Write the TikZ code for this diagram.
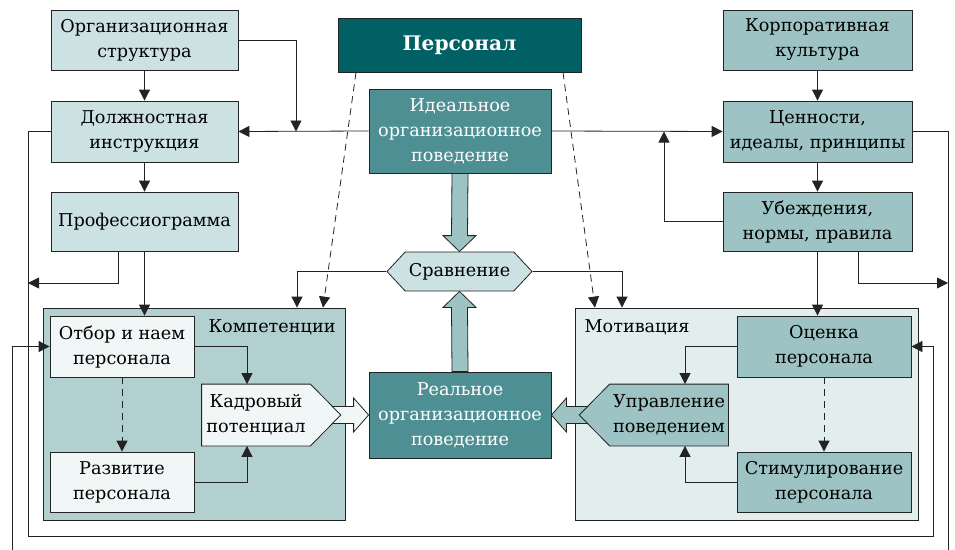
\documentclass[tikz,border=0pt]{standalone}
\usepackage{fontspec}
\setmainfont{DejaVu Serif}[Scale=0.84]
\usepackage{xcolor}
\usepackage{tikz}
\usetikzlibrary{arrows.meta,positioning,shapes.symbols,backgrounds}

\definecolor{lineclr}{RGB}{35,35,35}
\definecolor{lightteal}{RGB}{204,225,226}
\definecolor{midteal}{RGB}{157,195,196}
\definecolor{darkteal}{RGB}{78,143,147}
\definecolor{deepteal}{RGB}{0,96,100}
\definecolor{compfill}{RGB}{179,208,209}
\definecolor{motivfill}{RGB}{226,237,238}
\definecolor{paleteal}{RGB}{241,247,247}

\begin{document}
\begin{tikzpicture}[x=1pt, y=-1pt,
  block/.style={draw=lineclr, line width=0.8pt, align=center, inner sep=2pt,
    minimum width=187pt, minimum height=60pt, font=\fontsize{21}{25}\selectfont},
  lightblock/.style={block, fill=lightteal},
  midblock/.style={block, fill=midteal},
  paleblock/.style={block, fill=paleteal, minimum width=144pt},
  darkblock/.style={block, fill=darkteal, text=white, minimum width=182pt},
  group/.style={draw=lineclr, line width=0.8pt, minimum height=212pt},
  grouplabel/.style={font=\fontsize{21}{25}\selectfont},
  pointtext/.style={block, draw=none, minimum height=61pt},
  outline/.style={draw=lineclr, line width=0.8pt, line join=miter},
  arrow/.style={-{Triangle[length=11pt,width=11pt]}, line width=0.8pt, draw=lineclr},
  dasharrow/.style={arrow, dash pattern=on 7pt off 5pt},
  fat/.style={outline},
]
\useasboundingbox (0,0) rectangle (955,549);

% groups
\begin{scope}[on background layer]
\node[group, fill=compfill, minimum width=302pt] (comp) at (194,414) {};
\node[group, fill=motivfill, minimum width=343pt] (motiv) at (746.5,414) {};
\end{scope}
\node[grouplabel] (complbl) at (272,327) {Компетенции};
\node[grouplabel] (motivlbl) at (637,327) {Мотивация};

% left column
\node[lightblock] (org) at (144.5,40) {Организационная\\структура};
\node[lightblock, minimum height=61pt] (dolzh) at (144.5,131.5) {Должностная\\инструкция};
\node[lightblock, minimum height=59pt] (prof) at (144.5,221.5) {Профессиограмма};

% centre
\node[block, fill=deepteal, text=white, minimum width=243pt, minimum height=54pt,
  font=\fontsize{24}{28}\selectfont\bfseries] (pers) at (459.5,45) {Персонал};
\node[darkblock, minimum height=84pt] (ideal) at (460,131) {Идеальное\\организационное\\поведение};
\node[lightblock, shape=signal, signal to=west and east, signal pointer angle=94,
  minimum width=145pt, minimum height=39pt] (cmp) at (459.5,271.5) {Сравнение};
\node[darkblock, minimum height=86pt] (real) at (460,415) {Реальное\\организационное\\поведение};

% right column
\node[midblock, minimum width=189pt] (korp) at (817.5,40) {Корпоративная\\культура};
\node[midblock, minimum width=189pt, minimum height=61pt] (cenn) at (817.5,131.5) {Ценности,\\идеалы, принципы};
\node[midblock, minimum width=189pt, minimum height=59pt] (ubezh) at (817.5,221.5) {Убеждения,\\нормы, правила};

% inside groups
\node[paleblock, minimum height=61pt] (otbor) at (122,346.5) {Отбор и наем\\персонала};
\node[paleblock] (razv) at (122,482) {Развитие\\персонала};
\node[pointtext, minimum width=108pt] (kadr) at (256,415) {Кадровый\\потенциал};
\node[midblock, minimum width=174pt, minimum height=61pt] (ocenka) at (824,346.5) {Оценка\\персонала};
\node[pointtext, minimum width=118pt] (uprav) at (669,415) {Управление\\поведением};
\node[midblock, minimum width=174pt] (stim) at (824,482) {Стимулирование\\персонала};

\coordinate (kadrtip) at ([xshift=30.5pt]kadr.east);
\coordinate (upravtip) at ([xshift=-30.5pt]uprav.west);
\begin{scope}[on background layer]
\draw[outline, fill=paleteal] (kadr.north west) -- (kadr.north east) -- (kadrtip)
  -- (kadr.south east) -- (kadr.south west) -- cycle;
\draw[outline, fill=midteal] (uprav.north east) -- (uprav.north west) -- (upravtip)
  -- (uprav.south west) -- (uprav.south east) -- cycle;
\end{scope}

% junctions
\coordinate (j1) at (296,131.5);
\coordinate (j2) at (664,131.5);
\coordinate (j3) at (28,283);
\coordinate (j4) at (948,283);

% connectors
\draw[arrow] (org) -- (dolzh);
\draw[arrow] (dolzh) -- (prof);
\draw[arrow] (org.east) -| (j1);
\draw[arrow] (ideal.west) -- (dolzh.east);
\draw[arrow] (ideal.east) -- (cenn.west);
\draw[arrow] (korp) -- (cenn);
\draw[arrow] (cenn) -- (ubezh);
\draw[arrow] (ubezh.west) -| (j2);
\draw[arrow] (dolzh.west) -- ++(-22.5,0) |- (933,536) |- (ocenka.east);
\draw[arrow] (cenn.east) -- ++(36,0) |- (12,575) |- (otbor.west);
\draw[arrow] ([xshift=-26.5pt]prof.south) |- (j3);
\draw[arrow] (prof.south) -- (prof.south |- otbor.north);
\draw[arrow] (cmp.west) -| ([xshift=103pt]comp.north);
\draw[dasharrow] ([xshift=-103.5pt]pers.south) -- ([xshift=129pt]comp.north);
\draw[dasharrow] ([xshift=103.5pt]pers.south) -- ([xshift=-151.5pt]motiv.north);
\draw[arrow] (cmp.east) -| ([xshift=-124.5pt]motiv.north);
\draw[arrow] (ubezh.south) -- (ubezh.south |- ocenka.north);
\draw[arrow] ([xshift=40.5pt]ubezh.south) |- (j4);
\draw[arrow] (otbor.east) -| ([xshift=-9pt]kadr.north);
\draw[dasharrow] (otbor) -- (razv);
\draw[arrow] (razv.east) -| ([xshift=-9pt]kadr.south);
\draw[arrow] (ocenka.west) -| ([xshift=16pt]uprav.north);
\draw[dasharrow] (ocenka) -- (stim);
\draw[arrow] (stim.west) -| ([xshift=16pt]uprav.south);

% fat arrows
\draw[fat, fill=midteal] ([xshift=-8pt]ideal.south) -- ([xshift=-8pt,yshift=16pt]cmp.north)
  -- ([xshift=-16.5pt,yshift=16pt]cmp.north) -- (cmp.north)
  -- ([xshift=16.5pt,yshift=16pt]cmp.north) -- ([xshift=8pt,yshift=16pt]cmp.north)
  -- ([xshift=8pt]ideal.south) -- cycle;
\draw[fat, fill=midteal] ([xshift=-8pt]real.north) -- ([xshift=-8pt,yshift=-16pt]cmp.south)
  -- ([xshift=-16.5pt,yshift=-16pt]cmp.south) -- (cmp.south)
  -- ([xshift=16.5pt,yshift=-16pt]cmp.south) -- ([xshift=8pt,yshift=-16pt]cmp.south)
  -- ([xshift=8pt]real.north) -- cycle;
\draw[fat, fill=paleteal] (kadrtip) -- ([xshift=-8.5pt,yshift=8.5pt]kadrtip)
  -- ([xshift=-15pt,yshift=8.5pt]real.west) -- ([xshift=-15pt,yshift=17pt]real.west)
  -- (real.west) -- ([xshift=-15pt,yshift=-17pt]real.west)
  -- ([xshift=-15pt,yshift=-8.5pt]real.west) -- ([xshift=-8.5pt,yshift=-8.5pt]kadrtip) -- cycle;
\draw[fat, fill=midteal] (upravtip) -- ([xshift=8.5pt,yshift=8.5pt]upravtip)
  -- ([xshift=15pt,yshift=8.5pt]real.east) -- ([xshift=15pt,yshift=17pt]real.east)
  -- (real.east) -- ([xshift=15pt,yshift=-17pt]real.east)
  -- ([xshift=15pt,yshift=-8.5pt]real.east) -- ([xshift=8.5pt,yshift=-8.5pt]upravtip) -- cycle;

\end{tikzpicture}
\end{document}
